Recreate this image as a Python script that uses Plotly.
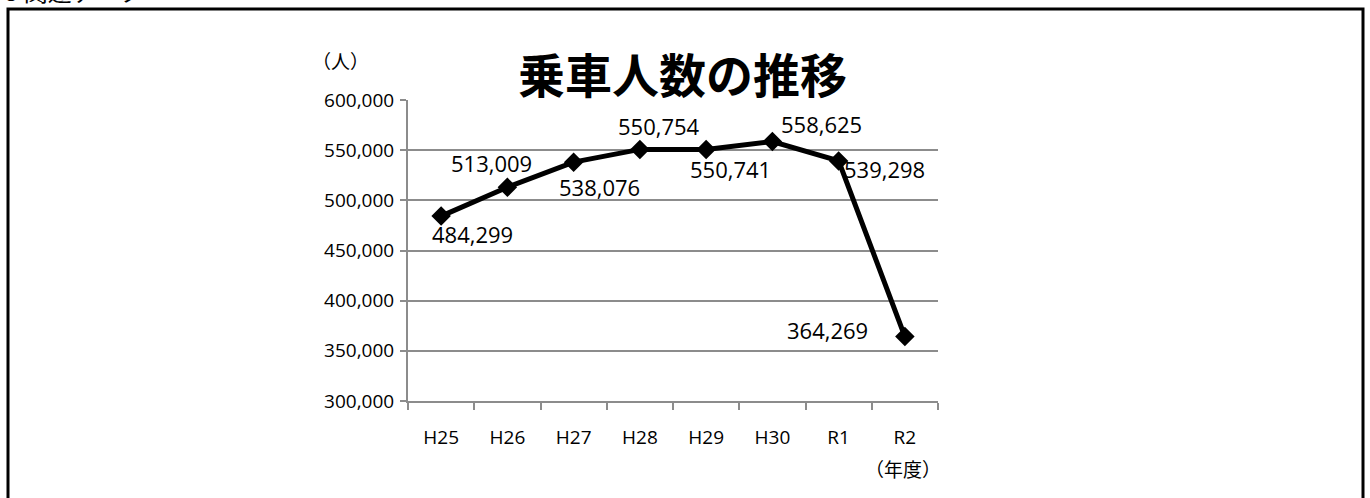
import plotly.graph_objects as go

years = ["H25", "H26", "H27", "H28", "H29", "H30", "R1", "R2"]
riders = [484299, 513009, 538076, 550754, 550741, 558625, 539298, 364269]
y_ticks = [300000, 350000, 400000, 450000, 500000, 550000, 600000]
y_tick_text = ["300,000", "350,000", "400,000", "450,000", "500,000", "550,000", "600,000"]
# label offsets (px) from each marker
label_dx = [31, -16, 26, 19, 24, 49, 46, -77]
label_dy = [-18, 24, -25, 23, -20, 18, -8, 7]

W, H = 1370, 498
L, R, T, B = 408, 432, 100, 97
pw, ph = W - L - R, H - T - B

def px_x(x):
    return (x - L) / pw

def px_y(y):
    return (H - B - y) / ph

font_main = "Open Sans, Noto Sans CJK JP, sans-serif"
grid_col = "#8c8c8c"

fig = go.Figure()
fig.add_trace(go.Scatter(
    x=years, y=riders, mode="lines+markers",
    line=dict(color="black", width=5),
    marker=dict(symbol="diamond", size=15, color="black"),
    showlegend=False, cliponaxis=False, hoverinfo="skip",
))

for xv, yv, dx, dy in zip(years, riders, label_dx, label_dy):
    fig.add_annotation(x=xv, y=yv, text=f"{yv:,}", showarrow=False,
                       xshift=dx, yshift=dy, xanchor="center", yanchor="middle",
                       font=dict(family=font_main, size=22, color="black"))

fig.add_annotation(xref="paper", yref="paper", x=px_x(340), y=px_y(60),
                   xanchor="center", yanchor="middle",
                   text="（人）", showarrow=False,
                   font=dict(family="Noto Sans CJK JP", size=19, color="black"))
fig.add_annotation(xref="paper", yref="paper", x=px_x(682), y=px_y(72),
                   xanchor="center", yanchor="middle",
                   text="<b>乗車人数の推移</b>", showarrow=False,
                   font=dict(family="Noto Sans CJK JP", size=47, color="black"))
fig.add_annotation(xref="paper", yref="paper", x=px_x(903), y=px_y(468),
                   xanchor="center", yanchor="middle",
                   text="（年度）", showarrow=False,
                   font=dict(family="Noto Sans CJK JP", size=19, color="black"))
fig.add_annotation(xref="paper", yref="paper", x=px_x(3), y=px_y(10),
                   xanchor="left", yanchor="bottom",
                   text="5 関連データ", showarrow=False,
                   font=dict(family="Noto Sans CJK JP", size=24, color="black"))

fig.add_shape(type="rect", xref="paper", yref="paper",
              x0=px_x(8), x1=px_x(1363), y0=px_y(520), y1=px_y(9),
              line=dict(color="black", width=3), fillcolor="rgba(0,0,0,0)",
              layer="below")

fig.update_layout(
    width=W, height=H,
    margin=dict(l=L, r=R, t=T, b=B, pad=0),
    paper_bgcolor="white", plot_bgcolor="white",
    font=dict(family=font_main, size=19, color="black"),
    xaxis=dict(
        type="category", range=[-0.5, 7.5], tickson="boundaries",
        ticks="outside", ticklen=7, tickwidth=2, tickcolor=grid_col,
        showline=True, linecolor=grid_col, linewidth=2,
        showgrid=False, ticklabelstandoff=18,
        tickfont=dict(family=font_main, size=19),
    ),
    yaxis=dict(
        range=[300000, 600000], tickvals=y_ticks, ticktext=y_tick_text,
        ticks="outside", ticklen=6, tickwidth=2, tickcolor=grid_col,
        showline=True, linecolor=grid_col, linewidth=2,
        showgrid=True, gridcolor=grid_col, gridwidth=2,
        zeroline=False, ticklabelstandoff=2,
        tickfont=dict(family=font_main, size=19),
    ),
)

fig.write_html("out.html", config={"displayModeBar": False},
               post_script="document.body.style.margin='0';document.body.style.overflow='hidden';")
